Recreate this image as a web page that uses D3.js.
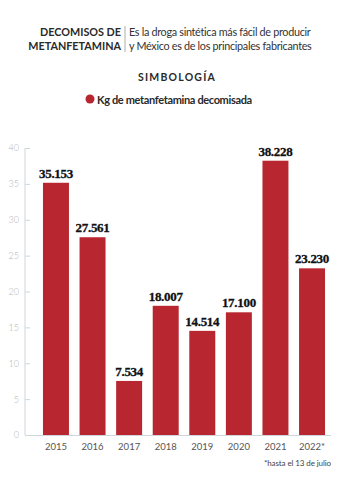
<!DOCTYPE html>
<html lang="es">
<head>
<meta charset="UTF-8">
<title>Decomisos de metanfetamina</title>
<script src="https://d3js.org/d3.v7.min.js"></script>
<style>
  body { margin: 0; background: #fff; }
  svg { font-family: Lato, "Open Sans", sans-serif; display: block; }
</style>
</head>
<body>
<svg width="345" height="478"></svg>
<script>
// data (miles de kg)
const years = ["2015", "2016", "2017", "2018", "2019", "2020", "2021", "2022"];
const values = [35.153, 27.561, 7.534, 18.007, 14.514, 17.100, 38.228, 23.230];
const valueLabels = ["35.153", "27.561", "7.534", "18.007", "14.514", "17.100", "38.228", "23.230"];
const yTicks = [0, 5, 10, 15, 20, 25, 30, 35, 40];

const svg = d3.select("svg");
const red = "#b8262f";

// header
svg.append("text").attr("x", 121).attr("y", 36).attr("text-anchor", "end")
    .attr("font-size", 10.8).attr("font-weight", 700).attr("fill", "#2a2a2a")
    .text("DECOMISOS DE");
svg.append("text").attr("x", 121).attr("y", 50).attr("text-anchor", "end")
    .attr("font-size", 10.8).attr("font-weight", 700).attr("fill", "#2a2a2a")
    .text("METANFETAMINA");
svg.append("line").attr("x1", 125).attr("x2", 125).attr("y1", 26).attr("y2", 52)
    .attr("stroke", "#999").attr("stroke-width", 0.8);
svg.append("text").attr("x", 129).attr("y", 36).attr("font-size", 10.8)
    .attr("fill", "#333").attr("letter-spacing", -0.3)
    .text("Es la droga sintética más fácil de producir");
svg.append("text").attr("x", 129).attr("y", 50).attr("font-size", 10.8)
    .attr("fill", "#333").attr("letter-spacing", -0.3)
    .text("y México es de los principales fabricantes");

// legend
svg.append("text").attr("x", 177).attr("y", 81).attr("text-anchor", "middle")
    .attr("font-size", 10.5).attr("font-weight", 700).attr("fill", "#2a2a2a")
    .attr("letter-spacing", 1.2).text("SIMBOLOGÍA");
svg.append("circle").attr("cx", 90).attr("cy", 99).attr("r", 4.5).attr("fill", red);
svg.append("text").attr("x", 97).attr("y", 103.5)
    .attr("font-size", 11).attr("font-weight", 700).attr("fill", "#2a2a2a")
    .attr("letter-spacing", -0.35)
    .text("Kg de metanfetamina decomisada");

// scales
const x = d3.scaleBand().domain(years).range([32, 336]).paddingInner(0.29).paddingOuter(0.3);
const y = d3.scaleLinear().domain([0, 40]).range([435, 148]);

// y axis
const yAxis = svg.append("g").attr("transform", "translate(25,0)")
    .call(d3.axisRight(y).tickValues(yTicks).tickSize(5).tickFormat(d3.format("d")));
yAxis.select(".domain").attr("stroke", "#d0d5da").attr("d", `M0,${y(40)}V${y(0)}`);
yAxis.selectAll(".tick line").attr("stroke", "#d0d5da");
yAxis.selectAll(".tick text").attr("x", -6).attr("text-anchor", "end")
    .attr("fill", "#b5b5b5").attr("font-size", 9).attr("font-weight", 300)
    .attr("font-family", "Lato, sans-serif");

// bars
svg.append("g").selectAll("rect").data(values).join("rect")
    .attr("x", (d, i) => x(years[i]))
    .attr("width", x.bandwidth())
    .attr("y", d => y(d))
    .attr("height", d => y(0) - y(d))
    .attr("fill", red);

// value labels
svg.append("g").selectAll("text").data(values).join("text")
    .attr("x", (d, i) => x(years[i]) + x.bandwidth() / 2)
    .attr("y", d => y(d) - 5)
    .attr("text-anchor", "middle")
    .attr("font-family", "'Liberation Serif', serif")
    .attr("font-weight", 700)
    .attr("font-size", 13)
    .attr("letter-spacing", -0.3)
    .attr("stroke", "#111").attr("stroke-width", 0.3)
    .attr("fill", "#111")
    .text((d, i) => valueLabels[i]);

// x axis
const xAxis = svg.append("g").attr("transform", `translate(0,${y(0)})`)
    .call(d3.axisBottom(x).tickSize(0).tickPadding(8));
xAxis.select(".domain").attr("stroke", "#d0d5da").attr("d", `M25,0.5H331`);
xAxis.selectAll(".tick text").attr("fill", "#555").attr("font-size", 9.5)
    .attr("font-family", "Lato, sans-serif")
    .text(d => d === "2022" ? "2022*" : d);

// footnote
svg.append("text").attr("x", 331).attr("y", 466).attr("text-anchor", "end")
    .attr("font-size", 8).attr("fill", "#444").attr("letter-spacing", -0.1)
    .text("*hasta el 13 de julio");
</script>
</body>
</html>
